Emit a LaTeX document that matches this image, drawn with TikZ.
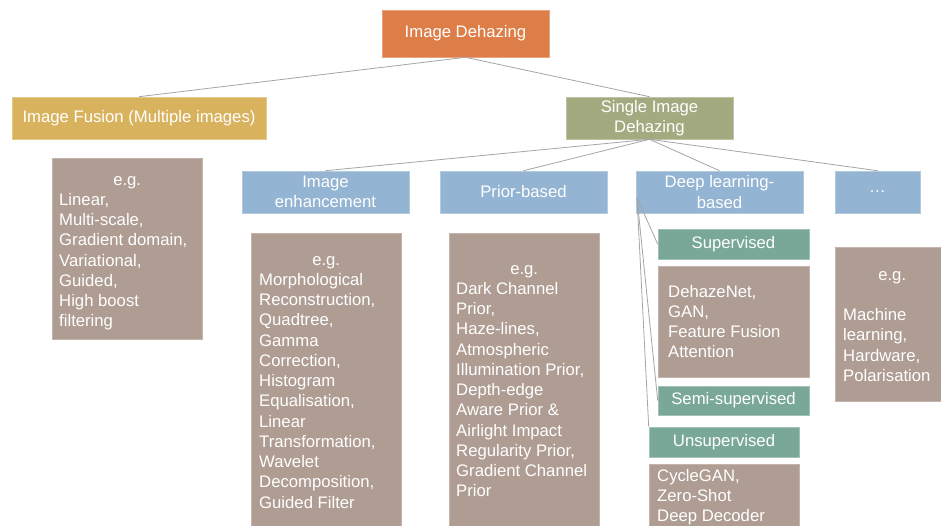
\documentclass[tikz,border=0pt]{standalone}
\usepackage{fontspec}
\setmainfont{Liberation Sans}
\definecolor{corange}{RGB}{221,125,71}
\definecolor{cyellow}{RGB}{216,178,93}
\definecolor{colive}{RGB}{164,170,127}
\definecolor{cblue}{RGB}{147,180,210}
\definecolor{cbrown}{RGB}{175,157,147}
\definecolor{cgreen}{RGB}{122,168,152}
\definecolor{linegray}{RGB}{165,165,165}
\begin{document}
\begin{tikzpicture}[x=1pt,y=-1pt,
  every node/.style={font=\fontsize{16.7}{20.25}\selectfont, text=white, inner sep=0pt},
  cat/.style={rectangle, align=center, line width=0.6pt, fill=#1, draw=#1!70!white},
  exbox/.style={rectangle, fill=cbrown, draw=cbrown!75!white, line width=0.6pt, anchor=north west},
  extext/.style={anchor=base west},
  link/.style={draw=linegray, line width=0.8pt}]
\useasboundingbox (0,0) rectangle (941,525);
\clip (0,0) rectangle (941,525);
\fill[white] (0,0) rectangle (941,525);

% category boxes
\node[cat=corange, minimum width=167pt, minimum height=47pt] (root) at (465.5,33.5) {Image Dehazing};
\node[cat=cyellow, minimum width=254pt, minimum height=42pt] (fusion) at (139,118) {Image Fusion (Multiple images)};
\node[cat=colive, minimum width=167pt, minimum height=42pt] (single) at (649.5,118) {Single Image\\Dehazing};
\node[cat=cblue, minimum width=167pt, minimum height=42pt] (enh) at (325.5,192) {Image\\enhancement};
\node[cat=cblue, minimum width=167pt, minimum height=42pt] (prior) at (523.5,192) {Prior-based};
\node[cat=cblue, minimum width=167pt, minimum height=42pt] (deep) at (719.5,192) {Deep learning-\\based};
\node[cat=cblue, minimum width=85pt, minimum height=42pt] (other) at (877.5,192) {…};
\node[cat=cgreen, minimum width=151pt, minimum height=30pt] (sup) at (733.5,244) {Supervised};
\node[cat=cgreen, minimum width=151pt, minimum height=29pt] (semi) at (733.5,400.5) {Semi-supervised};
\node[cat=cgreen, minimum width=150pt, minimum height=30pt] (unsup) at (724,442) {Unsupervised};

% example boxes
\node[exbox, minimum width=150pt, minimum height=181pt] (fusionex) at (52,158) {};
\node[exbox, minimum width=150pt, minimum height=300pt] (enhex) at (251,233) {};
\node[exbox, minimum width=150pt, minimum height=300pt] (priorex) at (449,233) {};
\node[exbox, minimum width=151pt, minimum height=111pt] (supex) at (658,266) {};
\node[exbox, minimum width=150pt, minimum height=70pt] (unsupex) at (649,464) {};
\node[exbox, minimum width=114pt, minimum height=154pt] (otherex) at (835,247) {};

% example texts
\node[extext] (fusiontx) at (59,185) {\parbox[t]{136pt}{\raggedright\makebox[\linewidth]{e.g.}\\Linear,\\Multi-scale,\\Gradient domain,\\Variational,\\Guided,\\High boost\\filtering}};
\node[extext] (enhtx) at (259,265) {\parbox[t]{134pt}{\raggedright\makebox[\linewidth]{e.g.}\\Morphological\\Reconstruction,\\Quadtree,\\Gamma\\Correction,\\Histogram\\Equalisation,\\Linear\\Transformation,\\Wavelet\\Decomposition,\\Guided Filter}};
\node[extext] (priortx) at (456,274) {\parbox[t]{136pt}{\raggedright\makebox[\linewidth]{e.g.}\\Dark Channel\\Prior,\\Haze-lines,\\Atmospheric\\Illumination Prior,\\Depth-edge\\Aware Prior \&\\Airlight Impact\\Regularity Prior,\\Gradient Channel\\Prior}};
\node[extext] (suptx) at (668,297) {\parbox[t]{136pt}{\raggedright DehazeNet,\\GAN,\\Feature Fusion\\Attention}};
\node[extext] (unsuptx) at (657,481) {\parbox[t]{136pt}{\raggedright CycleGAN,\\Zero-Shot\\Deep Decoder}};
\node[extext] (othertx) at (843,280) {\parbox[t]{98pt}{\raggedright\makebox[\linewidth]{e.g.}\\[20.25pt]Machine\\learning,\\Hardware,\\Polarisation}};

% connectors
\coordinate (dl) at (637,198);
\draw[link] (root.south) -- (fusion.north);
\draw[link] (root.south) -- (single.north);
\draw[link] (single.south) -- (enh.north);
\draw[link] (single.south) -- (prior.north);
\draw[link] (single.south) -- (deep.north);
\draw[link] (single.south) -- (other.north);
\draw[link] (dl) -- (sup.west);
\draw[link] (dl) -- (semi.west);
\draw[link] (dl) -- (unsup.north west);
\end{tikzpicture}
\end{document}
